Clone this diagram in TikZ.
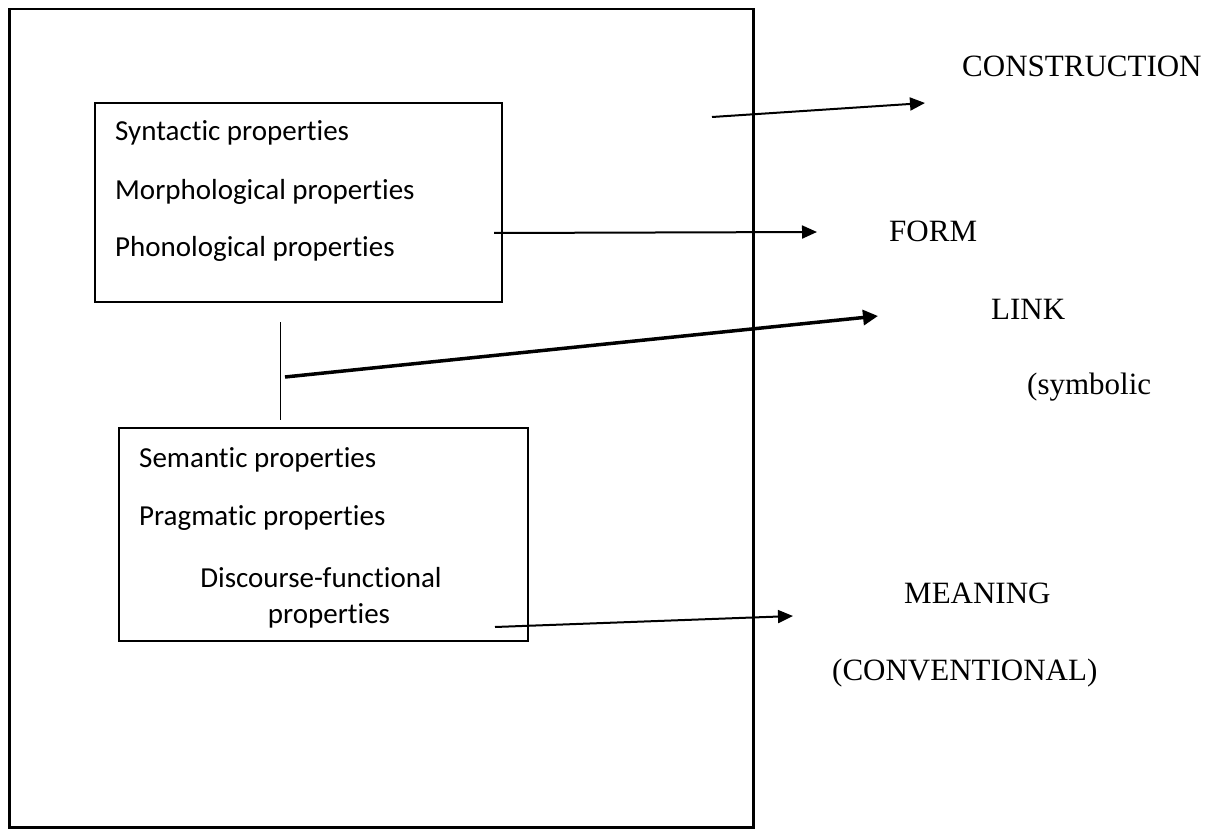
\documentclass[tikz,border=0pt]{standalone}
\usepackage{fontspec}
\setmainfont{Liberation Serif}
\newfontfamily\boxfont[Ligatures=NoCommon]{Carlito}
\usetikzlibrary{positioning, arrows.meta}

\begin{document}
\begin{tikzpicture}[
    x=1pt, y=-1pt,
    frame/.style={rectangle, draw, line width=2.5pt, inner sep=0pt, anchor=north west},
    propbox/.style={rectangle, draw, line width=2pt, inner sep=0pt, anchor=north west},
    prop/.style={anchor=base west, inner sep=0pt, font=\boxfont\fontsize{29}{35}\selectfont},
    term/.style={anchor=base west, inner sep=0pt, font=\fontsize{31}{37}\selectfont},
    arrow/.style={-{Triangle[length=15pt, width=13pt]}, line width=2pt},
    linkarrow/.style={-{Triangle[length=15pt, width=15pt]}, line width=3.5pt}
]
    \useasboundingbox (0,0) rectangle (1221,829);

    % Boxes
    \node[frame, minimum width=744pt, minimum height=818pt] (outer) at (8,8) {};
    \node[propbox, minimum width=407pt, minimum height=199pt] (formbox) at (94,102) {};
    \node[propbox, minimum width=409pt, minimum height=213pt] (meanbox) at (118,427) {};

    % Form properties
    \node[prop] (syn) at (115,141) {Syntactic properties};
    \node[prop] (morph) at (115,200) {Morphological properties};
    \node[prop] (phon) at (115,257) {Phonological properties};

    % Meaning properties
    \node[prop] (sem) at (139,467) {Semantic properties};
    \node[prop] (prag) at (139,525) {Pragmatic properties};
    \node[prop, anchor=base] (disc) at (321,587) {Discourse-functional};
    \node[prop, anchor=base] (discb) at (329,623) {properties};

    % Terms
    \node[term] (constr) at (962,77) {CONSTRUCTION};
    \node[term] (form) at (889,242) {FORM};
    \node[term] (link) at (991,319) {LINK};
    \node[term] (symb) at (1027,394) {(symbolic};
    \node[term] (meaning) at (904,603) {MEANING};
    \node[term] (conv) at (832,680) {(CONVENTIONAL)};

    % Arrow ends
    \coordinate (constrFrom) at (712,117);
    \coordinate (constrTo) at (925,103);
    \coordinate (formFrom) at (494,233);
    \coordinate (formTo) at (817,232);
    \coordinate (linkFrom) at (285,377);
    \coordinate (linkTo) at (878,316);
    \coordinate (meanFrom) at (495,627);
    \coordinate (meanTo) at (793,616);
    \coordinate (barTop) at (280,322);
    \coordinate (barBot) at (280,420);

    % Arrows
    \draw[arrow] (constrFrom) -- (constrTo);
    \draw[arrow] (formFrom) -- (formTo);
    \draw[linkarrow] (linkFrom) -- (linkTo);
    \draw[arrow] (meanFrom) -- (meanTo);
    \draw[line width=1pt] (barTop) -- (barBot);
\end{tikzpicture}
\end{document}
